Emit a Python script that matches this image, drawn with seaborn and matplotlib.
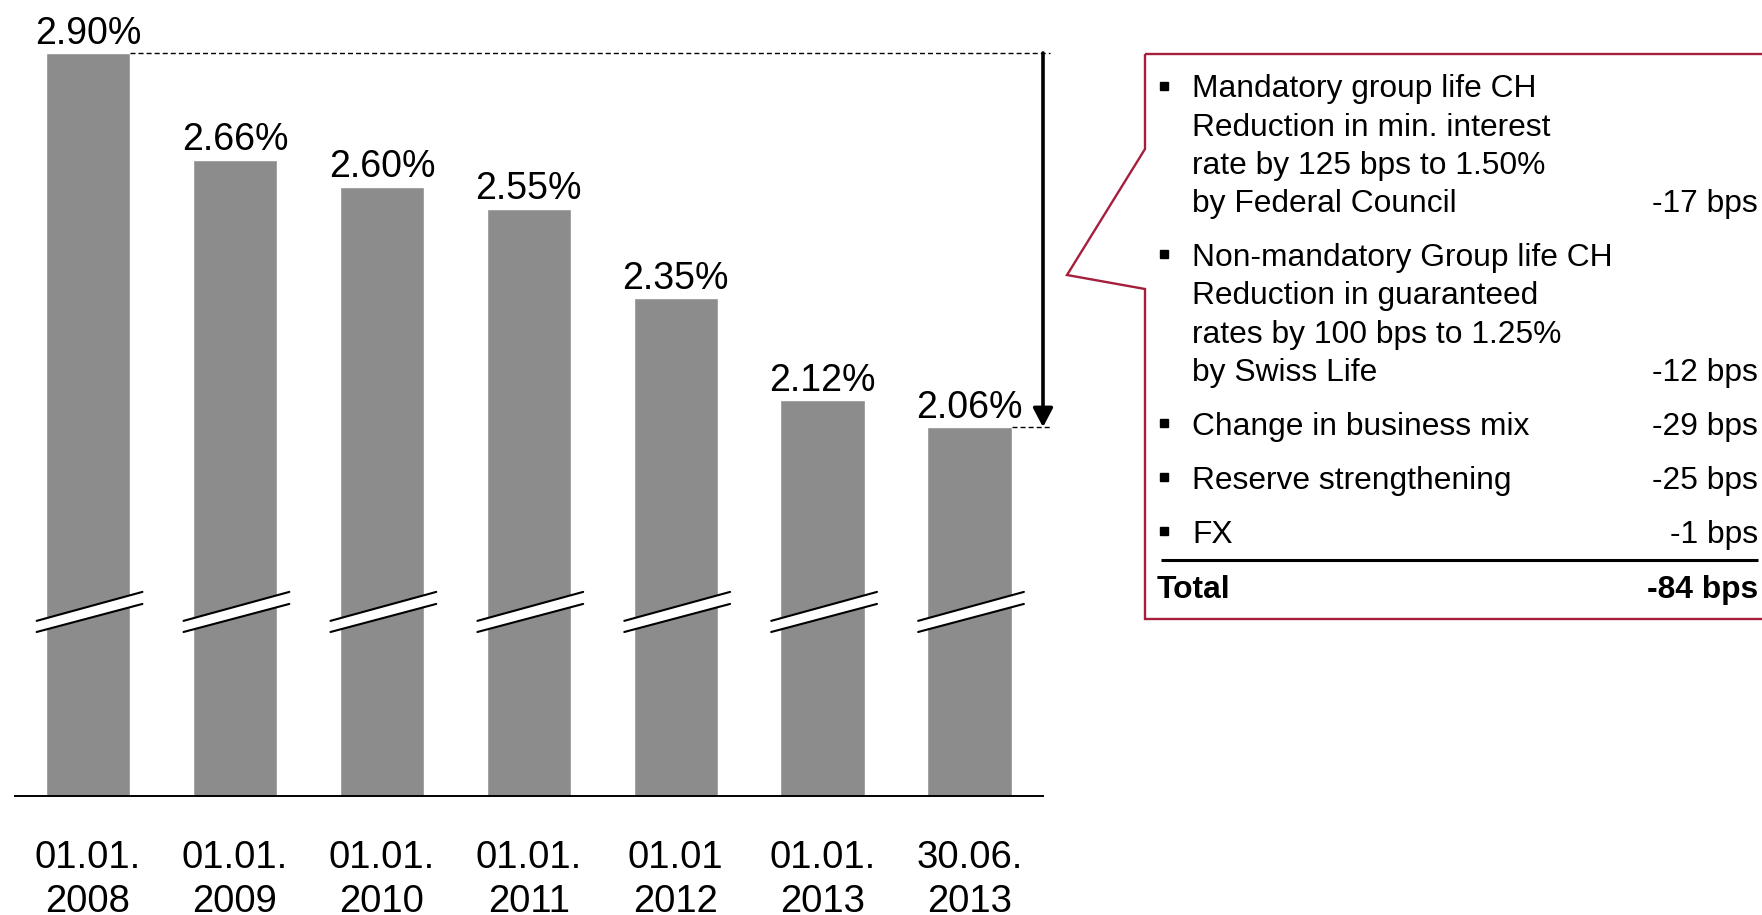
import matplotlib
matplotlib.use("Agg")
import matplotlib.pyplot as plt
import seaborn as sns
from matplotlib.patches import Polygon

# data
dates = ["01.01.\n2008", "01.01.\n2009", "01.01.\n2010", "01.01.\n2011",
         "01.01\n2012", "01.01.\n2013", "30.06.\n2013"]
rates = [2.90, 2.66, 2.60, 2.55, 2.35, 2.12, 2.06]

items = [
    ["Mandatory group life CH", "Reduction in min. interest",
     "rate by 125 bps to 1.50%", "by Federal Council"],
    ["Non-mandatory Group life CH", "Reduction in guaranteed",
     "rates by 100 bps to 1.25%", "by Swiss Life"],
    ["Change in business mix"],
    ["Reserve strengthening"],
    ["FX"],
]
item_bps = ["-17 bps", "-12 bps", "-29 bps", "-25 bps", "-1 bps"]
total_label = "Total"
total_bps = "-84 bps"

bar_color = "#8c8c8c"
red = "#a51e3c"

sns.set_theme(style="white")
plt.rcParams['font.family'] = ['Liberation Sans', 'DejaVu Sans']
plt.rcParams['text.color'] = 'black'

W, H = 1762, 915
fig = plt.figure(figsize=(W / 100, H / 100), dpi=100)
ax = fig.add_axes([14.6 / W, (H - 795.6) / H, (1043 - 14.6) / W, 787.2 / H])

sns.barplot(x=dates, y=rates, color=bar_color, saturation=1, width=0.574, ax=ax)
ax.set_xlim(-0.5, 6.5)
ax.set_ylim(1.2327, 3.0)
bars = list(ax.containers[0])

ax.bar_label(ax.containers[0], labels=[f"{v:.2f}%" for v in rates],
             padding=1, fontsize=27, color="black")

for s in ["top", "left", "right"]:
    ax.spines[s].set_visible(False)
ax.spines["bottom"].set_color("black")
ax.spines["bottom"].set_linewidth(1.4)
ax.set_yticks([])
ax.set_xlabel("")
ax.set_ylabel("")
ax.tick_params(axis="x", length=0, pad=32, labelsize=27.5, labelcolor="black")
for t in ax.get_xticklabels():
    t.set_linespacing(1.3)

# axis break marks across each bar
brk_lo = (1.600, 1.663)
brk_hi = (1.625, 1.690)
for p in bars:
    xc = p.get_x() + p.get_width() / 2
    x0, x1 = xc - 0.35, xc + 0.37
    ax.fill([x0, x1, x1, x0], [brk_lo[0], brk_lo[1], brk_hi[1], brk_hi[0]],
            color="white", zorder=3, lw=0)
    ax.plot([x0, x1], brk_hi, color="black", lw=1.5, zorder=4)
    ax.plot([x0, x1], brk_lo, color="black", lw=1.5, zorder=4)

# dashed guides and the drop arrow
first, last = bars[0], bars[-1]
ax.plot([first.get_x() + first.get_width(), 6.55], [rates[0], rates[0]],
        ls=(0, (3.6, 2.2)), lw=1, color="black", clip_on=False)
ax.plot([last.get_x() + last.get_width(), 6.55], [rates[-1], rates[-1]],
        ls=(0, (3.6, 2.2)), lw=1, color="black", clip_on=False)
ax.annotate("", xy=(6.5, rates[-1]), xytext=(6.5, rates[0]),
            arrowprops=dict(arrowstyle="-|>,head_length=0.95,head_width=0.5",
                            lw=2.6, color="black", shrinkA=0, shrinkB=0),
            annotation_clip=False)

# callout box in pixel coordinates
ov = fig.add_axes([0, 0, 1, 1])
ov.set_xlim(0, W)
ov.set_ylim(H, 0)
ov.axis("off")

ov.add_patch(Polygon([(1145, 54), (1800, 54), (1800, 619), (1145, 619),
                      (1145, 289), (1067, 275), (1145, 149)],
                     closed=True, fill=False, edgecolor=red, lw=1.7,
                     clip_on=False))

fs = 22.9
y = 97.5
for lines, val in zip(items, item_bps):
    ov.plot(1164, y - 12, marker="s", ms=5.5, color="black")
    for j, line in enumerate(lines):
        ov.text(1192, y, line, fontsize=fs, va="baseline", ha="left")
        if j == len(lines) - 1:
            ov.text(1758, y, val, fontsize=fs, va="baseline", ha="right")
        y += 38.2
    y += 15.8

ov.plot([1161, 1758], [560, 560], lw=2.2, color="black", solid_capstyle="butt")
ov.text(1157, 597.6, total_label, fontsize=fs, fontweight="bold", va="baseline", ha="left")
ov.text(1758, 597.6, total_bps, fontsize=fs, fontweight="bold", va="baseline", ha="right")

fig.savefig("out.png", dpi=100)
